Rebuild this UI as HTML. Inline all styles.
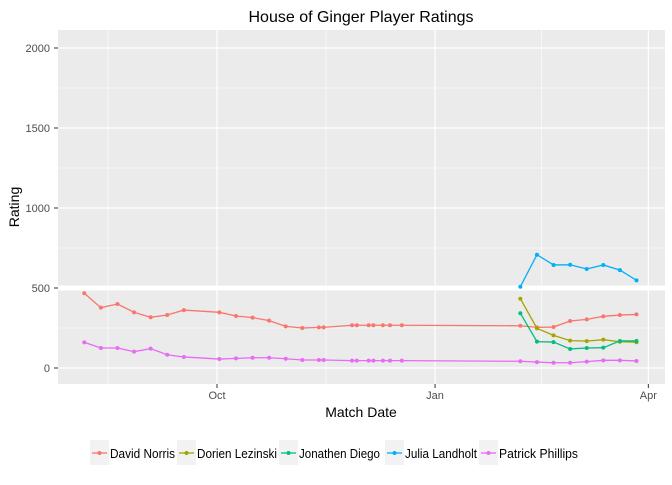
<!DOCTYPE html>
<html><head><meta charset="utf-8"><style>
body{margin:0;background:#fff;font-family:"Liberation Sans",sans-serif}
svg text{font-family:"Liberation Sans",sans-serif}
</style></head><body>
<svg id="c" width="672" height="480"></svg>
<script>
const seriesNames=["David Norris","Dorien Lezinski","Jonathen Diego","Julia Landholt","Patrick Phillips"];
const colors=["#F8766D","#A3A500","#00BF7D","#00B0F6","#E76BF3"];
const norrisDays=[-56,-49,-42,-35,-28,-21,-14,1,8,15,22,29,36,43,45,57,59,64,66,70,73,78,128,135,142,149,156,163,170,177];
const norrisVals=[467,377,400,348,317,331,362,348,325,315,296,260,250,254,254,267,267,267,267,267,267,267,264,254,256,294,304,323,331,335];
const patrickDays=norrisDays;
const patrickVals=[160,125,125,102,121,83,69,56,60,64,64,58,50,50,50,46,46,46,46,46,46,46,42,37,33,33,40,48,48,44];
const lateDays=[128,135,142,149,156,163,170,177];
const julia=[508,708,644,645,619,644,612,548];
const dorien=[433,248,204,171,168,177,164,161];
const jonathen=[342,165,162,119,125,127,169,169];
const yTicks=[0,500,1000,1500,2000];
const xTickDays=[0,92,182];
const xTickLabels=["Oct","Jan","Apr"];

const NS="http://www.w3.org/2000/svg";
const svg=document.getElementById("c");
const X0=58,X1=665,Y0=30,Y1=384;
const xs=d=>217+d*2.37;
const ys=v=>368-v*0.16;
function el(t,a,p){const e=document.createElementNS(NS,t);for(const k in a)e.setAttribute(k,a[k]);(p||svg).appendChild(e);return e;}
const panel=el("rect",{x:X0,y:Y0,width:X1-X0,height:Y1-Y0,fill:"#EBEBEB"});


[250,750,1250,1750].forEach(v=>el("line",{x1:X0,x2:X1,y1:ys(v),y2:ys(v),stroke:"#fff","stroke-width":0.6}));
[-46,46,137].forEach(d=>el("line",{x1:xs(d),x2:xs(d),y1:Y0,y2:Y1,stroke:"#fff","stroke-width":0.6}));
yTicks.forEach(v=>{
 el("line",{x1:X0,x2:X1,y1:ys(v),y2:ys(v),stroke:"#fff","stroke-width":v===500?5:1.2});
 const t=el("text",{x:50,y:ys(v)+4,"text-anchor":"end","font-size":11,fill:"#4D4D4D"});t.textContent=v;
 
 
 el("line",{x1:54,x2:58,y1:ys(v),y2:ys(v),stroke:"#333","stroke-width":1});
});
xTickDays.forEach((d,i)=>{
 el("line",{x1:xs(d),x2:xs(d),y1:Y0,y2:Y1,stroke:"#fff","stroke-width":1.2});
 el("line",{x1:xs(d),x2:xs(d),y1:Y1,y2:Y1+4,stroke:"#333","stroke-width":1});
 const t=el("text",{x:xs(d),y:399,"text-anchor":"middle","font-size":11,fill:"#4D4D4D"});t.textContent=xTickLabels[i];
 
 
});
function series(days,vals,col,name){
 const g=el("g",{});
 
 
 el("polyline",{points:days.map((d,i)=>xs(d)+","+ys(vals[i])).join(" "),fill:"none",stroke:col,"stroke-width":1.3},g);
 days.forEach((d,i)=>el("circle",{cx:xs(d),cy:ys(vals[i]),r:2,fill:col},g));
}
series(norrisDays,norrisVals,colors[0],"series-david-norris");
series(lateDays,dorien,colors[1],"series-dorien-lezinski");
series(lateDays,jonathen,colors[2],"series-jonathen-diego");
series(lateDays,julia,colors[3],"series-julia-landholt");
series(patrickDays,patrickVals,colors[4],"series-patrick-phillips");
let t=el("text",{x:361,y:22,"text-anchor":"middle","font-size":16,fill:"#000"});t.textContent="House of Ginger Player Ratings";


t=el("text",{x:361,y:417,"text-anchor":"middle","font-size":14,fill:"#000"});t.textContent="Match Date";


t=el("text",{x:19,y:207,"text-anchor":"middle","font-size":14,fill:"#000",transform:"rotate(-90 19 207)"});t.textContent="Rating";


const keyX=[90,177,279,385,479];
const keyTextW=[65,80,81,72,79];
seriesNames.forEach((n,i)=>{
 const g=el("g",{});
 
 
 el("rect",{x:keyX[i],y:440,width:19,height:25,fill:"#F2F2F2"},g);
 el("line",{x1:keyX[i]+2,x2:keyX[i]+17,y1:453,y2:453,stroke:colors[i],"stroke-width":1.3},g);
 el("circle",{cx:keyX[i]+9.5,cy:453,r:2,fill:colors[i]},g);
 const tt=el("text",{x:keyX[i]+20,y:458,"font-size":12.5,fill:"#000",textLength:keyTextW[i],lengthAdjust:"spacingAndGlyphs"},g);tt.textContent=n;
});
</script>
</body></html>
